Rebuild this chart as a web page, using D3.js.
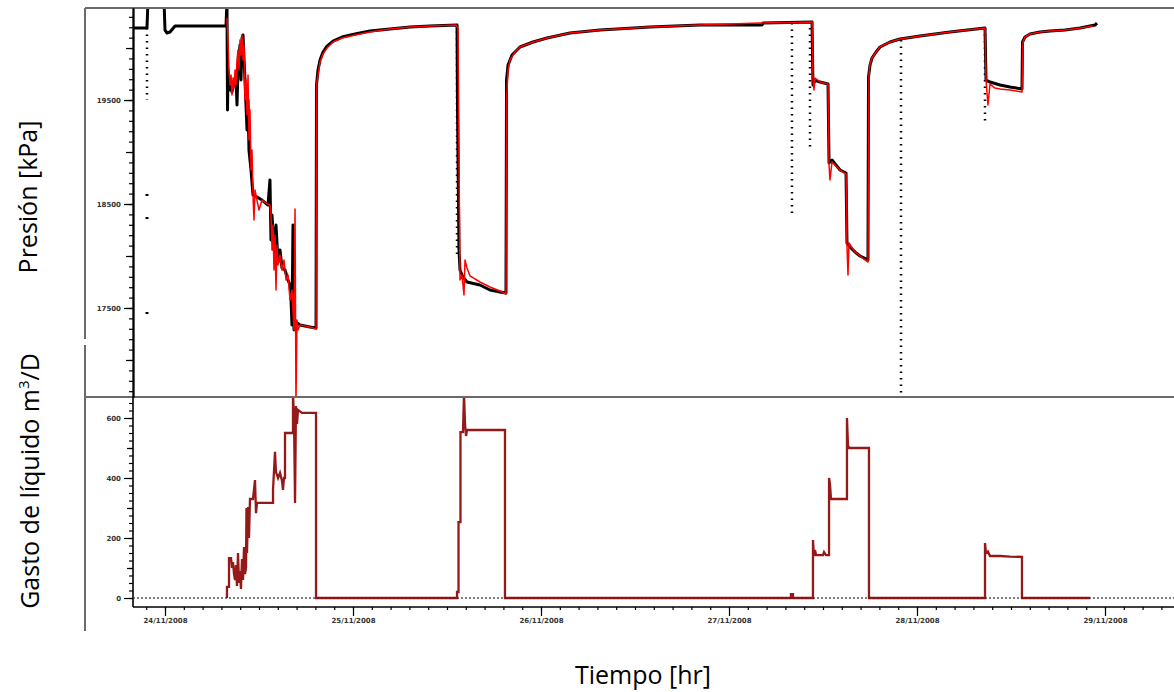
<!DOCTYPE html>
<html><head><meta charset="utf-8">
<script src="https://cdn.jsdelivr.net/npm/d3@7"></script>
<style>body{margin:0;background:#fff}svg{display:block}</style>
</head><body>
<svg id="c" width="1174" height="692"></svg>
<script>
// ---------- DATA (time in hours from 24/11/2008 00:00) ----------
const dayTicks = [0, 24, 48, 72, 96, 120];
const dayLabels = ["24/11/2008", "25/11/2008", "26/11/2008", "27/11/2008", "28/11/2008", "29/11/2008"];
const pressureTicks = [17500, 18500, 19500];
const rateTicks = [0, 200, 400, 600];

// measured pressure [h, kPa]
const measured = [
[-4.09,20192],[-2.30,20192],[-2.17,20460],[-0.13,20460],[0,20173],[0.26,20144],[0.64,20154],[1.28,20212],
[7.79,20212],[7.91,20460],[7.98,19404],[8.04,19788],[8.17,19596],[8.30,19712],[8.55,19577],[8.81,19673],
[9.06,19740],[9.19,19452],[9.32,19788],[9.57,20029],[9.70,19692],[9.83,20096],[9.96,20125],[10.09,19885],
[10.21,19692],[10.47,19212],[10.60,19500],[10.72,19019],[10.98,18827],[11.23,18587],[11.74,18567],[12.38,18538],
[13.15,18490],[13.40,18731],[13.53,18154],[13.66,18394],[13.91,18058],[14.17,18298],[14.43,17942],[14.68,18058],
[14.94,17885],[15.32,17865],[15.70,17769],[15.96,17721],[16.09,17577],[16.21,17337],[16.34,18298],[16.47,17289],
[16.72,17365],[17.23,17337],[18.51,17317],[19.28,17308],[19.34,19644],[19.53,19788],[19.79,19885],[20.17,19962],
[20.68,20019],[21.45,20067],[22.60,20106],[24.26,20135],[26.17,20163],[28.72,20183],[31.28,20202],[33.83,20212],
[37.28,20221],[37.34,19423],[37.53,18058],[37.66,17865],[38.04,17798],[38.55,17750],[40.21,17721],[41.49,17673],
[42.77,17654],[43.53,17644],[43.60,19692],[43.79,19836],[44.30,19933],[45.32,20010],[46.98,20058],[48.77,20096],
[51.70,20144],[55.53,20173],[61.91,20202],[68.30,20221],[76.21,20221],[76.34,20240],[82.60,20250],[82.72,19644],
[82.98,19692],[83.62,19673],[84.64,19654],[84.77,18894],[85.15,18923],[86.17,18827],[86.94,18798],[87.06,18125],
[87.45,18087],[88.09,18038],[88.72,18000],[89.74,17962],[89.81,19721],[90.00,19836],[90.26,19904],[90.77,19962],
[91.28,20010],[92.55,20058],[93.83,20087],[96.38,20115],[100.21,20154],[104.68,20192],[104.81,19692],[105.32,19673],
[106.60,19644],[107.87,19625],[109.40,19606],[109.47,20058],[109.79,20106],[110.43,20135],[111.70,20154],[112.98,20163],
[114.89,20173],[116.81,20192],[118.72,20221],[118.98,20240]
];

// simulated pressure [h, kPa]
const simulated = [
[7.91,20288],[8.04,20077],[8.17,19788],[8.30,19644],[8.43,19740],[8.55,19548],[8.68,19712],[8.81,19615],
[8.94,19788],[9.06,19644],[9.19,19885],[9.32,19981],[9.45,19788],[9.57,20077],[9.70,19933],[9.83,20125],
[9.96,19885],[10.09,20029],[10.21,19500],[10.34,19692],[10.47,19356],[10.60,19740],[10.72,19115],[10.85,19404],
[10.98,18827],[11.11,19019],[11.23,18587],[11.36,18346],[11.49,18635],[11.74,18538],[12.00,18442],[12.38,18538],
[12.89,18510],[13.40,18490],[13.53,18394],[13.66,18058],[13.79,18298],[13.91,17865],[14.04,18202],[14.17,17673],
[14.30,18106],[14.43,17914],[14.68,18010],[14.94,17865],[15.19,17962],[15.45,17769],[15.70,17817],[15.96,17577],
[16.21,17673],[16.47,17289],[16.60,18452],[16.72,16600],[16.85,17385],[16.98,17289],[17.23,17337],[17.87,17327],
[18.51,17317],[19.28,17298],[19.34,19644],[19.53,19740],[19.79,19865],[20.17,19942],[20.68,20000],[21.45,20058],
[22.60,20096],[24.26,20125],[26.17,20154],[28.72,20183],[31.28,20202],[33.83,20212],[37.15,20221],[37.40,20192],
[37.66,17769],[37.91,17817],[38.17,17625],[38.30,17962],[38.55,17885],[38.94,17808],[40.21,17750],[41.49,17702],
[42.77,17663],[43.53,17635],[43.60,19500],[43.79,19788],[44.04,19885],[44.68,19962],[45.32,20010],[46.98,20058],
[48.77,20096],[51.70,20144],[55.53,20173],[61.91,20202],[68.30,20221],[75.96,20240],[82.60,20250],[82.72,19692],
[82.85,19596],[82.98,19712],[83.62,19673],[84.64,19654],[84.77,18875],[84.89,18731],[85.15,18904],[86.17,18827],
[86.94,18788],[87.06,18106],[87.19,17817],[87.32,18125],[88.09,18038],[88.72,18000],[89.74,17942],[89.87,19740],
[90.00,19846],[90.26,19904],[90.77,19962],[91.28,20010],[92.55,20058],[93.83,20087],[96.38,20115],[100.21,20154],
[104.68,20192],[104.81,19692],[105.06,19452],[105.32,19654],[105.96,19615],[106.60,19606],[107.87,19596],[109.40,19577],
[109.53,20058],[109.79,20106],[110.43,20135],[111.70,20154],[112.98,20163],[114.89,20173],[116.81,20192],[118.47,20212]
];

// sparse measured samples shown as dotted columns [h, kPa top, kPa bottom]
const dottedDrops = [
[-2.30,20192,19500],[37.28,20221,18010],[80.04,20240,18394],[82.34,20192,19019],[93.96,20077,16640],[104.68,20192,19280]
];
// isolated measured samples [h, kPa]
const strayPoints = [[-2.30,18587],[-2.30,18365],[-2.30,17452]];

// liquid rate [h, m3/D]
const rate = [
[7.91,0],[7.91,37],[8.17,37],[8.17,133],[8.43,133],[8.55,100],[8.68,120],[8.81,80],[8.94,60],[9.06,110],[9.19,40],
[9.32,150],[9.45,50],[9.57,90],[9.70,30],[9.83,130],[9.96,60],[10.09,170],[10.21,80],[10.34,100],[10.40,300],
[10.47,150],[10.60,303],[10.72,200],[10.85,330],[11.23,330],[11.49,393],[11.62,283],[11.74,317],[13.79,317],
[13.79,360],[14.04,487],[14.17,420],[14.43,400],[14.68,417],[14.94,390],[15.06,360],[15.19,400],[15.32,400],
[15.32,550],[16.34,550],[16.34,680],[16.47,600],[16.60,317],[16.72,640],[16.85,580],[16.98,627],[17.49,617],
[19.28,617],[19.28,0],[37.28,0],[37.28,20],[37.47,20],[37.47,253],[37.72,253],[37.72,553],[38.04,553],[38.17,680],
[38.30,580],[38.43,540],[38.55,560],[43.40,560],[43.40,0],[79.91,0],[79.91,13],[80.17,13],[80.17,0],[82.72,0],
[82.72,193],[82.85,140],[82.98,160],[83.11,143],[84.00,143],[84.13,153],[84.38,143],[84.77,143],[84.77,400],
[84.89,380],[85.02,330],[87.06,330],[87.06,600],[87.19,510],[87.32,500],[89.87,500],[89.87,0],[104.68,0],
[104.68,183],[104.81,150],[105.06,155],[105.32,140],[106.60,140],[107.87,138],[109.40,137],[109.40,0],[118.09,0]
];

// ---------- CHART ----------
const svg = d3.select("#c");
const x = d3.scaleLinear().domain([0, 120]).range([165, 1105]);
const yP = d3.scaleLinear().domain([16644, 20385]).range([397, 8]);
const yQ = d3.scaleLinear().domain([0, 600]).range([598, 418]);
const left = 133, right = 1174, topY = 8, midY = 397, botY = 607;

const defs = svg.append("defs");
defs.append("clipPath").attr("id","cp1").append("rect").attr("x",left+1).attr("y",topY+1).attr("width",right-left).attr("height",midY-topY-2);
defs.append("clipPath").attr("id","cp2").append("rect").attr("x",left+1).attr("y",midY+1).attr("width",right-left).attr("height",botY-midY-2);

// frame
const frame = svg.append("g").attr("stroke","#6a6a6a").attr("stroke-width",2).attr("fill","none");
frame.append("line").attr("x1",85).attr("x2",right).attr("y1",topY).attr("y2",topY);
frame.append("line").attr("x1",85).attr("x2",right).attr("y1",midY).attr("y2",midY);
frame.append("line").attr("x1",85).attr("x2",85).attr("y1",topY).attr("y2",339);
frame.append("line").attr("x1",85).attr("x2",85).attr("y1",345).attr("y2",631);

// top panel curves
const g1 = svg.append("g").attr("clip-path","url(#cp1)");
const line = d3.line().x(d => x(d[0])).y(d => yP(d[1]));
g1.selectAll("line.drop").data(dottedDrops).join("line").attr("class","drop")
  .attr("x1",d=>x(d[0])).attr("x2",d=>x(d[0])).attr("y1",d=>yP(d[1])).attr("y2",d=>yP(d[2]))
  .attr("stroke","#000").attr("stroke-width",2.5).attr("stroke-dasharray","1.5,5");
g1.selectAll("rect.stray").data(strayPoints).join("rect").attr("class","stray")
  .attr("x",d=>x(d[0])-1.5).attr("y",d=>yP(d[1])-1).attr("width",3).attr("height",2).attr("fill","#000");
g1.append("path").datum(measured).attr("d",line).attr("fill","none").attr("stroke","#000").attr("stroke-width",3).attr("stroke-linejoin","round");
g1.append("path").datum(simulated).attr("d",line).attr("fill","none").attr("stroke","#ff0000").attr("stroke-width",1.5).attr("stroke-linejoin","round");

// bottom panel
const g2 = svg.append("g").attr("clip-path","url(#cp2)");
g2.append("line").attr("x1",left).attr("x2",right).attr("y1",yQ(0)).attr("y2",yQ(0))
  .attr("stroke","#000").attr("stroke-width",1).attr("stroke-dasharray","2,2");
const lineQ = d3.line().x(d => x(d[0])).y(d => yQ(d[1]));
g2.append("path").datum(rate).attr("d",lineQ).attr("fill","none").attr("stroke","#8b0000").attr("stroke-width",2.3).attr("stroke-opacity",0.9);

// axes
function styleAxis(g){
  g.selectAll(".tick line").attr("stroke","#000").attr("stroke-width",1.2);
  g.selectAll(".tick text").attr("font-family","DejaVu Sans").attr("font-size","7px").attr("font-weight","bold").attr("fill","#333");
  g.select(".domain").attr("stroke","#000").attr("stroke-width",1.6);
}
// pressure axis
svg.append("g").attr("transform",`translate(${left},0)`)
  .call(d3.axisLeft(yP).tickValues(d3.range(16700,20400,100)).tickSize(4).tickFormat("").tickSizeOuter(0)).call(styleAxis);
svg.append("g").attr("transform",`translate(${left},0)`)
  .call(d3.axisLeft(yP).tickValues(d3.range(17000,20400,500)).tickSize(7).tickFormat("").tickSizeOuter(0)).call(styleAxis);
svg.append("g").attr("transform",`translate(${left},0)`)
  .call(d3.axisLeft(yP).tickValues(pressureTicks).tickSize(9).tickPadding(3).tickFormat(d3.format("d")).tickSizeOuter(0)).call(styleAxis);
// rate axis
svg.append("g").attr("transform",`translate(${left},0)`)
  .call(d3.axisLeft(yQ).tickValues(d3.range(0,675,25)).tickSize(4).tickFormat("").tickSizeOuter(0)).call(styleAxis)
  .select(".domain").remove();
svg.append("g").attr("transform",`translate(${left},0)`)
  .call(d3.axisLeft(yQ).tickValues(d3.range(100,675,200)).tickSize(6).tickFormat("").tickSizeOuter(0)).call(styleAxis)
  .select(".domain").remove();
svg.append("g").attr("transform",`translate(${left},0)`)
  .call(d3.axisLeft(yQ).tickValues(rateTicks).tickSize(9).tickPadding(3).tickFormat(d3.format("d")).tickSizeOuter(0)).call(styleAxis)
  .select(".domain").remove();
svg.append("line").attr("x1",left).attr("x2",left).attr("y1",midY).attr("y2",botY).attr("stroke","#000").attr("stroke-width",1.6);

// time axis
const xa = svg.append("g").attr("transform",`translate(0,${botY})`);
xa.call(d3.axisBottom(x).tickValues(d3.range(-2.4,129,2.4)).tickSize(3).tickFormat("").tickSizeOuter(0)).call(styleAxis);
xa.select(".domain").remove();
svg.append("g").attr("transform",`translate(0,${botY})`)
  .call(d3.axisBottom(x).tickValues(dayTicks).tickSize(9).tickPadding(2).tickFormat((d,i)=>dayLabels[i]).tickSizeOuter(0)).call(styleAxis)
  .select(".domain").remove();
svg.append("line").attr("x1",left).attr("x2",right).attr("y1",botY).attr("y2",botY).attr("stroke","#000").attr("stroke-width",1.6);

// titles
const tf = "Open Sans";
svg.append("text").attr("transform","translate(37,197) rotate(-90)").attr("text-anchor","middle")
  .attr("font-family",tf).attr("font-size","25px").attr("fill","#000").text("Presión [kPa]");
const t2 = svg.append("text").attr("transform","translate(39,481) rotate(-90)").attr("text-anchor","middle")
  .attr("font-family",tf).attr("font-size","25px").attr("fill","#000");
t2.append("tspan").text("Gasto de líquido m");
t2.append("tspan").attr("font-size","15px").attr("dy","-10").text("3");
t2.append("tspan").attr("dy","10").text("/D");
svg.append("text").attr("x",643).attr("y",684).attr("text-anchor","middle")
  .attr("font-family",tf).attr("font-size","25px").attr("fill","#000").text("Tiempo [hr]");
</script>
</body></html>
